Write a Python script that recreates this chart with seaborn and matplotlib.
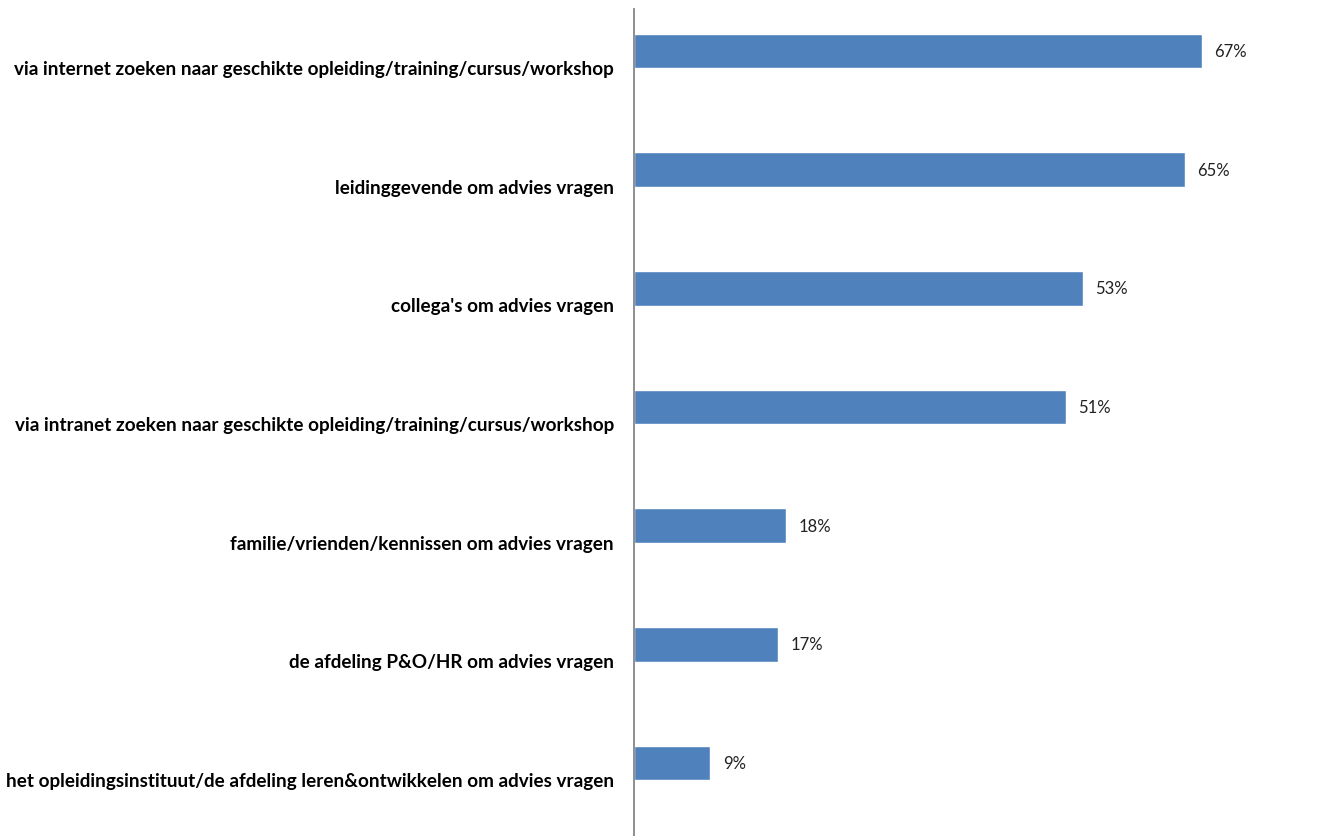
import matplotlib
matplotlib.use("Agg")
import matplotlib.pyplot as plt
import matplotlib.transforms as mtransforms
import seaborn as sns
import pandas as pd

categories = [
    "via internet zoeken naar geschikte opleiding/training/cursus/workshop",
    "leidinggevende om advies vragen",
    "collega's om advies vragen",
    "via intranet zoeken naar geschikte opleiding/training/cursus/workshop",
    "familie/vrienden/kennissen om advies vragen",
    "de afdeling P&O/HR om advies vragen",
    "het opleidingsinstituut/de afdeling leren&ontwikkelen om advies vragen",
]
values = [67, 65, 53, 51, 18, 17, 9]

df = pd.DataFrame({"categorie": categories, "percentage": values})

sns.set_theme(style="white")
plt.rcParams["font.family"] = ["Lato", "DejaVu Sans"]

fig = plt.figure(figsize=(13.17, 8.37), dpi=100)
ax = fig.add_axes([634 / 1317, 0.0, 1 - 634 / 1317 - 0.004, 1 - 10 / 837])

sns.barplot(data=df, y="categorie", x="percentage", orient="h",
            color="#4F81BD", saturation=1, width=0.29, ax=ax)

ax.set_xlim(0, 80)
ax.set_ylim(6.615, -0.354)
ax.set_xlabel("")
ax.set_ylabel("")
ax.set_xticks([])
ax.set_yticklabels([])
ax.tick_params(axis="y", length=0)

for spine in ["top", "right", "bottom"]:
    ax.spines[spine].set_visible(False)
ax.spines["left"].set_color("#868686")
ax.spines["left"].set_linewidth(1.3)

# category labels sit a little below the bar centres, right-aligned to the axis
label_tf = ax.get_yaxis_transform() + mtransforms.ScaledTranslation(
    -0.20, -0.175, fig.dpi_scale_trans)
for i, cat in enumerate(categories):
    ax.text(0, i, cat, transform=label_tf, ha="right", va="center",
            fontsize=13.6, fontweight="bold", color="black")

for i, v in enumerate(values):
    ax.annotate(f"{v}%", xy=(v, i), xytext=(9, 0), textcoords="offset points",
                va="center", ha="left", fontsize=12, color="#222222")

fig.savefig("out.png", dpi=100, facecolor="white")
